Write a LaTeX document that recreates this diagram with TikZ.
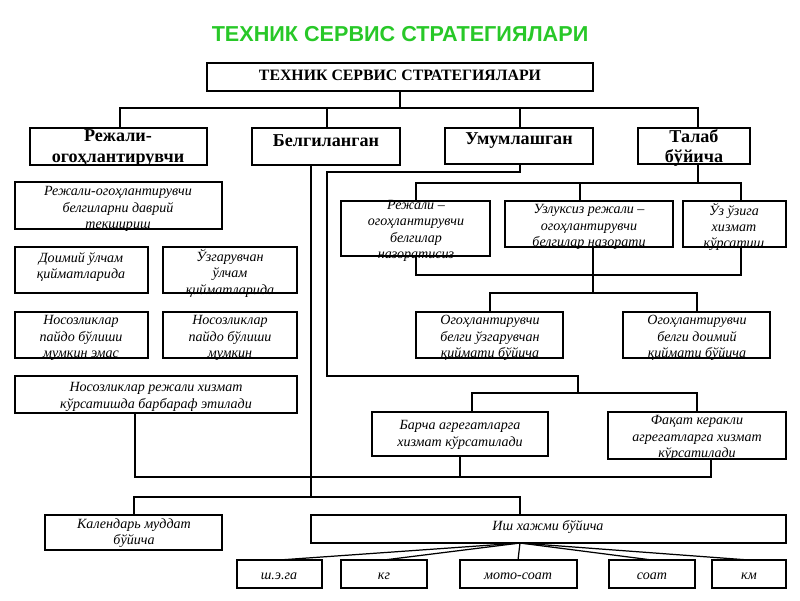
\documentclass[tikz,border=0pt]{standalone}
\usepackage{fontspec}
\setmainfont{Liberation Serif}
\setsansfont{Liberation Sans}
\begin{document}
\begin{tikzpicture}[x=0.02cm,y=-0.02cm,
  b/.style={draw,line width=0.8pt,inner sep=0pt},
  bf/.style={font=\fontsize{10.3}{11.5}\selectfont\bfseries,align=center},
  it/.style={font=\fontsize{8}{9.3}\selectfont\itshape,align=center},
  ln/.style={line width=0.7pt}]
\useasboundingbox (0,0) rectangle (800,600);
\node[font=\sffamily\bfseries\fontsize{12.3}{14}\selectfont,text={rgb,255:red,40;green,200;blue,40}] (title) at (400,34) {ТЕХНИК СЕРВИС СТРАТЕГИЯЛАРИ};
% boxes
\draw[b] (207,63) rectangle (593,91); \node[font=\fontsize{9}{9}\selectfont\bfseries] (top) at (400,75) {ТЕХНИК СЕРВИС СТРАТЕГИЯЛАРИ};
\draw[b] (30,128) rectangle (207,165); \node[bf] (r) at (118,148) {Режали-\\огоҳлантирувчи};
\draw[b] (252,128) rectangle (400,165); \node[bf] (be) at (326,141) {Белгиланган};
\draw[b] (445,128) rectangle (593,164); \node[bf] (um) at (519,141) {Умумлашган};
\draw[b] (638,128) rectangle (750,164); \node[bf] (ta) at (694,148) {Талаб\\бўйича};
% left column
\draw[b] (15,182) rectangle (222,229); \node[it] (l1) at (118,209) {Режали-огоҳлантирувчи\\белгиларни даврий\\текшириш};
\draw[b] (15,247) rectangle (148,293); \node[it] (l2) at (81,267) {Доимий ўлчам\\қийматларида};
\draw[b] (163,247) rectangle (297,293); \node[it] (l3) at (230,273) {Ўзгарувчан\\ўлчам\\қийматларида};
\draw[b] (15,312) rectangle (148,358); \node[it] (l4) at (81,338) {Носозликлар\\пайдо бўлиши\\мумкин эмас};
\draw[b] (163,312) rectangle (297,358); \node[it] (l5) at (230,338) {Носозликлар\\пайдо бўлиши\\мумкин};
\draw[b] (15,376) rectangle (297,413); \node[it] (l6) at (156,397) {Носозликлар режали хизмат\\кўрсатишда барбараф этилади};
% right
\draw[b] (341,201) rectangle (490,256); \node[it] (t1) at (416,231) {Режали –\\огоҳлантирувчи\\белгилар\\назоратисиз};
\draw[b] (505,201) rectangle (673,247); \node[it] (t2) at (589,227) {Узлуксиз режали –\\огоҳлантирувчи\\белгилар назорати};
\draw[b] (683,201) rectangle (786,247); \node[it] (t3) at (734,227) {Ўз ўзига\\хизмат\\кўрсатиш};
\draw[b] (416,312) rectangle (563,358); \node[it] (o1) at (490,338) {Огоҳлантирувчи\\белги ўзгарувчан\\қиймати бўйича};
\draw[b] (623,312) rectangle (770,358); \node[it] (o2) at (697,338) {Огоҳлантирувчи\\белги доимий\\қиймати бўйича};
\draw[b] (372,412) rectangle (548,456); \node[it] (s1) at (460,435) {Барча агрегатларга\\хизмат кўрсатилади};
\draw[b] (608,412) rectangle (786,459); \node[it] (s2) at (697,438) {Фақат керакли\\агрегатларга хизмат\\кўрсатилади};
\draw[b] (45,515) rectangle (222,550); \node[it] (k) at (134,533) {Календарь муддат\\бўйича};
\draw[b] (311,515) rectangle (786,543); \node[it] (ish) at (548,527) {Иш хажми бўйича};
\draw[b] (237,560) rectangle (322,588); \node[it] (u1) at (279,576) {ш.э.га};
\draw[b] (341,560) rectangle (427,588); \node[it] (u2) at (384,576) {кг};
\draw[b] (460,560) rectangle (577,588); \node[it] (u3) at (518,576) {мото-соат};
\draw[b] (609,560) rectangle (695,588); \node[it] (u4) at (652,576) {соат};
\draw[b] (712,560) rectangle (786,588); \node[it] (u5) at (749,576) {км};
% connectors
\draw[ln] (400,91) -- (400,108) (120,128) -- (120,108) -- (698,108) -- (698,128) (327,108) -- (327,128) (520,108) -- (520,128);
\draw[ln] (520,164) -- (520,172) -- (327,172) -- (327,376) -- (578,376) -- (578,393);
\draw[ln] (472,412) -- (472,393) -- (697,393) -- (697,412);
\draw[ln] (311,165) -- (311,497);
\draw[ln] (135,413) -- (135,477) -- (711,477) -- (711,459) (460,456) -- (460,477);
\draw[ln] (134,515) -- (134,497) -- (520,497) -- (520,515);
\draw[ln] (698,164) -- (698,183) (416,201) -- (416,183) -- (741,183) -- (741,201) (580,183) -- (580,201);
\draw[ln] (416,256) -- (416,275) -- (741,275) -- (741,247) (593,247) -- (593,293);
\draw[ln] (490,312) -- (490,293) -- (697,293) -- (697,312);
\foreach \x in {279,384,518,652,749} \draw[ln] (520,543) -- (\x,560);
\end{tikzpicture}
\end{document}
